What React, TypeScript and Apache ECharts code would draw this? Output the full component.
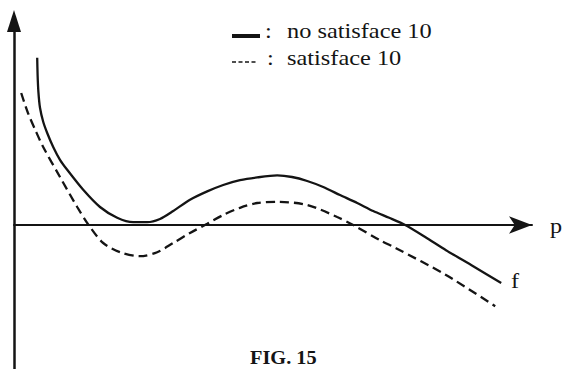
import React, { useEffect, useRef } from "react";
import * as echarts from "echarts";

// p values (horizontal) and f values (vertical)
const solidP = [0.58, 0.59, 0.61, 0.65, 0.73, 0.83, 0.98, 1.15, 1.33, 1.73, 2.15, 2.58, 2.98, 3.33, 3.65, 3.98, 4.4, 4.83, 5.23, 5.65, 6.08, 6.58, 6.95, 7.33, 7.73, 8.15, 8.58, 8.98, 9.38, 9.78, 10.28, 10.8, 11.48, 12.18];
const solidF = [4.18, 3.75, 3.33, 2.93, 2.58, 2.3, 1.95, 1.63, 1.38, 0.88, 0.45, 0.18, 0.07, 0.07, 0.15, 0.35, 0.63, 0.84, 1.0, 1.12, 1.19, 1.24, 1.2, 1.1, 0.95, 0.75, 0.55, 0.35, 0.18, 0.0, -0.3, -0.63, -1.03, -1.45];
const dashedP = [0.18, 0.35, 0.53, 0.73, 1.15, 1.58, 1.9, 2.23, 2.65, 3.15, 3.58, 3.98, 4.4, 4.83, 5.23, 5.65, 6.08, 6.58, 7.33, 8.08, 8.48, 9.15, 9.55, 10.8, 12.03];
const dashedF = [3.3, 2.8, 2.38, 1.95, 1.2, 0.45, -0.05, -0.45, -0.68, -0.78, -0.68, -0.45, -0.2, 0.03, 0.25, 0.43, 0.55, 0.58, 0.5, 0.2, 0.0, -0.38, -0.58, -1.25, -2.03];

const legendLabels = ["no satisface 10", "satisface 10"];
const axisNameX = "p";
const curveLabel = "f";
const caption = "FIG. 15";

const INK = "#141414";

export default function App() {
  const ref = useRef<HTMLDivElement>(null);

  useEffect(() => {
    if (!ref.current) return;
    const chart = echarts.init(ref.current, undefined, { renderer: "svg" });
    const zip = (a: number[], b: number[]) => a.map((v, i) => [v, b[i]]);

    const txt = (x: number, y: number, text: string, sx: number, extra: any) => ({
      type: "text",
      x,
      y,
      scaleX: sx,
      style: Object.assign(
        { text, fill: INK, textAlign: "left", textVerticalAlign: "middle" },
        extra
      ),
    });

    chart.setOption({
      animation: false,
      backgroundColor: "#ffffff",
      grid: { left: 14, top: 21, width: 518, height: 348, containLabel: false },
      xAxis: {
        type: "value",
        min: 0,
        max: 12.95,
        axisLine: {
          show: true,
          onZero: true,
          symbol: ["none", "arrow"],
          symbolSize: [13, 23],
          lineStyle: { color: INK, width: 2 },
        },
        axisTick: { show: false },
        axisLabel: { show: false },
        splitLine: { show: false },
      },
      yAxis: {
        type: "value",
        min: -3.6,
        max: 5.1,
        axisLine: {
          show: true,
          onZero: false,
          symbol: ["none", "triangle"],
          symbolSize: [14, 22],
          lineStyle: { color: INK, width: 2.5 },
        },
        axisTick: { show: false },
        axisLabel: { show: false },
        splitLine: { show: false },
      },
      series: [
        {
          name: legendLabels[0],
          type: "line",
          data: zip(solidP, solidF),
          smooth: 0.25,
          symbol: "none",
          lineStyle: { color: INK, width: 2.3, type: "solid" },
        },
        {
          name: legendLabels[1],
          type: "line",
          data: zip(dashedP, dashedF),
          smooth: 0.3,
          symbol: "none",
          lineStyle: { color: INK, width: 2.3, type: [9, 5] },
        },
      ],
      graphic: [
        {
          type: "line",
          shape: { x1: 232, y1: 36, x2: 260, y2: 36 },
          style: { stroke: INK, lineWidth: 4 },
        },
        {
          type: "line",
          shape: { x1: 232, y1: 62, x2: 258, y2: 62 },
          style: { stroke: INK, lineWidth: 1.5, lineDash: [4, 2.5] },
        },
        txt(265, 31, ":", 1.16, { font: "normal normal 21px 'Liberation Serif', serif" }),
        txt(267, 58, ":", 1.16, { fontFamily: "Liberation Serif", fontSize: 21, fontWeight: "lighter" }),
        txt(287, 31, legendLabels[0], 1.16, { font: "normal normal 21px 'Liberation Serif', serif" }),
        txt(287, 58, legendLabels[1], 1.16, { fontFamily: "Liberation Serif", fontSize: 21, fontWeight: "lighter" }),
        txt(550, 225, axisNameX, 1.1, { fontFamily: "serif", fontSize: 22 }),
        txt(511, 280, curveLabel, 1.1, { font: "500 22px 'Liberation Serif'" }),
        txt(250, 358, caption, 1.13, { fontFamily: "Liberation Serif", fontSize: 18, fontWeight: "bold" }),
      ],
    });

    return () => chart.dispose();
  }, []);

  return (
    <div
      ref={ref}
      style={{ position: "absolute", left: 0, top: 0, width: 563, height: 369, background: "#fff" }}
    />
  );
}
